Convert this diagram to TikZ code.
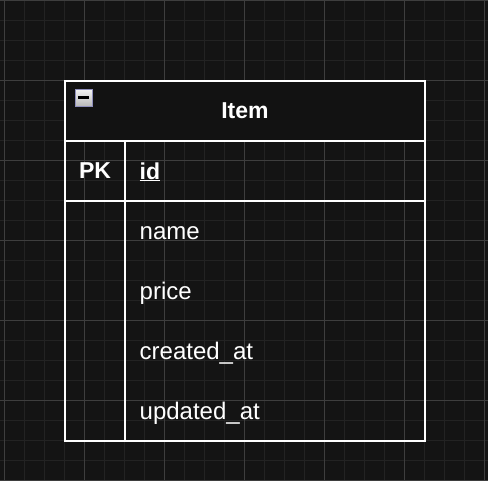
\documentclass[tikz,border=0pt]{standalone}
\usepackage{fontspec}
\setmainfont{Liberation Sans}
\usepackage{xcolor}
\usepackage{tikz}
\definecolor{canvas}{HTML}{141414}
\definecolor{minorgrid}{HTML}{232323}
\definecolor{majorgrid}{HTML}{3E3E3E}
\definecolor{headfill}{HTML}{121212}
\tikzset{every node/.style={text=white,font=\fontsize{24}{28}\selectfont},
    cell/.style={draw=white,line width=2pt,inner sep=0pt,minimum height=60pt},
    field/.style={anchor=base west,inner sep=0pt},
    minorline/.style={draw=minorgrid,line width=1pt},
    majorline/.style={draw=majorgrid,line width=1pt},
    toggle/.style={draw=gray!75!blue!70,line width=1pt,minimum size=17pt,inner sep=0pt,
        top color=white!92!gray,bottom color=gray!55}}

\begin{document}
\begin{tikzpicture}[x=1pt,y=-1pt]
    \fill[canvas] (0,0) rectangle (488,480);
    \useasboundingbox (0,0) rectangle (488,480);
    \foreach \x in {4,24,...,484} \draw[minorline] (\x,0) -- (\x,480);
    \foreach \y in {0,20,...,480} \draw[minorline] (0,\y) -- (488,\y);
    \foreach \x in {4,84,...,484} \draw[majorline] (\x,0) -- (\x,480);
    \foreach \y in {0,80,...,480} \draw[majorline] (0,\y) -- (488,\y);

    \node[cell,fill=headfill,minimum width=360pt,font=\bfseries\fontsize{23}{27}\selectfont] (item) at (245,111) {Item};
    \node[cell,minimum width=60pt,font=\bfseries\fontsize{23}{27}\selectfont] (pk) at (95,171) {PK};
    \node[cell,minimum width=300pt] (idcell) at (275,171) {};
    \node[cell,minimum width=60pt,minimum height=240pt] (keycol) at (95,321) {};
    \node[cell,minimum width=300pt,minimum height=240pt] (fieldcol) at (275,321) {};

    \node[toggle] (collapse) at (83.5,97.5) {};
    \fill[black] ([xshift=-5.5pt,yshift=-1.4pt]collapse.center) rectangle ([xshift=5.5pt,yshift=1.4pt]collapse.center);

    \node[field,font=\bfseries\fontsize{23}{27}\selectfont] (id) at (139.5,179) {\underline{id}};
    \node[field] (name) at (139.5,239) {name};
    \node[field] (price) at (139.5,299) {price};
    \node[field] (created) at (139.5,359) {created\_at};
    \node[field] (updated) at (139.5,419) {updated\_at};
\end{tikzpicture}
\end{document}
